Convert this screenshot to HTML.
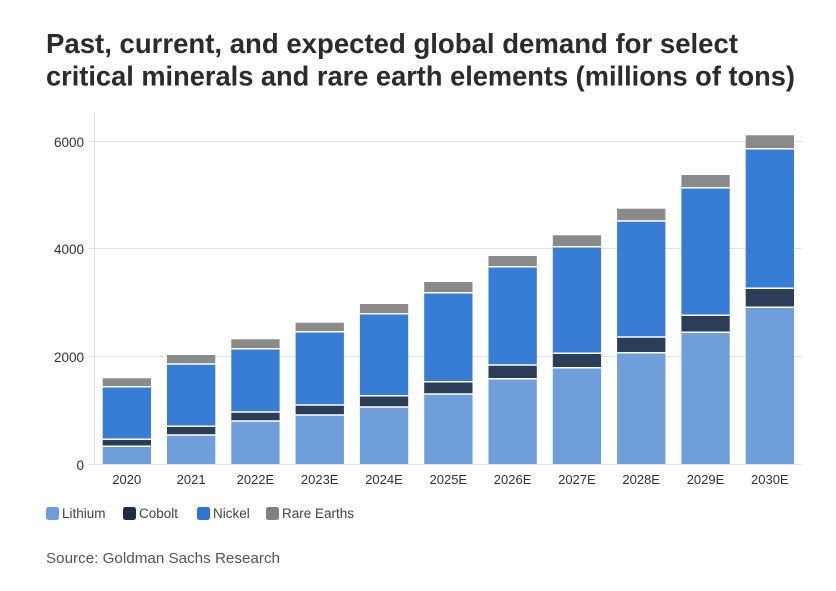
<!DOCTYPE html>
<html><head><meta charset="utf-8"><style>
html,body{margin:0;padding:0;background:#fff;}
svg{display:block;font-family:"Liberation Sans",sans-serif;}
</style></head><body>
<svg width="836" height="591" viewBox="0 0 836 591" xmlns="http://www.w3.org/2000/svg">
<rect width="836" height="591" fill="#fff"/>
<text x="46" y="53" font-size="27.3" font-weight="bold" fill="#2b2b2b" textLength="692" lengthAdjust="spacingAndGlyphs">Past, current, and expected global demand for select</text>
<text x="46" y="85.5" font-size="27.3" font-weight="bold" fill="#2b2b2b" textLength="749" lengthAdjust="spacingAndGlyphs">critical minerals and rare earth elements (millions of tons)</text>
<g stroke="#e2e2e2" stroke-width="1">
<line x1="94" y1="141.5" x2="803" y2="141.5"/>
<line x1="94" y1="248.5" x2="803" y2="248.5"/>
<line x1="94" y1="356.5" x2="803" y2="356.5"/>
<line x1="94" y1="464.5" x2="803" y2="464.5"/>
<line x1="94.5" y1="113" x2="94.5" y2="464"/>
<line x1="88" y1="141.5" x2="94" y2="141.5"/>
<line x1="88" y1="248.5" x2="94" y2="248.5"/>
<line x1="88" y1="356.5" x2="94" y2="356.5"/>
<line x1="88" y1="464.5" x2="94" y2="464.5"/>
</g>
<g font-size="13.5" fill="#333" text-anchor="end">
<text x="84" y="147">6000</text>
<text x="84" y="254">4000</text>
<text x="84" y="362">2000</text>
<text x="84" y="470">0</text>
</g>
<g>
<g><rect x="102.7" y="378.3" width="48.3" height="8.4" fill="#8a8a8a"/><rect x="102.7" y="386.7" width="48.3" height="52.6" fill="#377dd6"/><rect x="102.7" y="439.3" width="48.3" height="7" fill="#2b3d57"/><rect x="102.7" y="446.3" width="48.3" height="17.7" fill="#6f9fdb"/></g>
<g><rect x="167" y="355" width="48.3" height="9" fill="#8a8a8a"/><rect x="167" y="364" width="48.3" height="62.3" fill="#377dd6"/><rect x="167" y="426.3" width="48.3" height="8.7" fill="#2b3d57"/><rect x="167" y="435" width="48.3" height="29" fill="#6f9fdb"/></g>
<g><rect x="231.3" y="339.3" width="48.3" height="9.4" fill="#8a8a8a"/><rect x="231.3" y="348.7" width="48.3" height="63.3" fill="#377dd6"/><rect x="231.3" y="412" width="48.3" height="9" fill="#2b3d57"/><rect x="231.3" y="421" width="48.3" height="43" fill="#6f9fdb"/></g>
<g><rect x="295.6" y="322.7" width="48.3" height="9" fill="#8a8a8a"/><rect x="295.6" y="331.7" width="48.3" height="73.3" fill="#377dd6"/><rect x="295.6" y="405" width="48.3" height="10" fill="#2b3d57"/><rect x="295.6" y="415" width="48.3" height="49" fill="#6f9fdb"/></g>
<g><rect x="359.9" y="304" width="48.3" height="9.7" fill="#8a8a8a"/><rect x="359.9" y="313.7" width="48.3" height="82" fill="#377dd6"/><rect x="359.9" y="395.7" width="48.3" height="11.3" fill="#2b3d57"/><rect x="359.9" y="407" width="48.3" height="57" fill="#6f9fdb"/></g>
<g><rect x="424.2" y="282" width="48.3" height="10.7" fill="#8a8a8a"/><rect x="424.2" y="292.7" width="48.3" height="89" fill="#377dd6"/><rect x="424.2" y="381.7" width="48.3" height="12.3" fill="#2b3d57"/><rect x="424.2" y="394" width="48.3" height="70" fill="#6f9fdb"/></g>
<g><rect x="488.5" y="256" width="48.3" height="10.7" fill="#8a8a8a"/><rect x="488.5" y="266.7" width="48.3" height="98.3" fill="#377dd6"/><rect x="488.5" y="365" width="48.3" height="13.7" fill="#2b3d57"/><rect x="488.5" y="378.7" width="48.3" height="85.3" fill="#6f9fdb"/></g>
<g><rect x="552.8" y="235.3" width="48.3" height="11.4" fill="#8a8a8a"/><rect x="552.8" y="246.7" width="48.3" height="106.6" fill="#377dd6"/><rect x="552.8" y="353.3" width="48.3" height="14.4" fill="#2b3d57"/><rect x="552.8" y="367.7" width="48.3" height="96.3" fill="#6f9fdb"/></g>
<g><rect x="617.1" y="208.7" width="48.3" height="12.3" fill="#8a8a8a"/><rect x="617.1" y="221" width="48.3" height="116" fill="#377dd6"/><rect x="617.1" y="337" width="48.3" height="15.7" fill="#2b3d57"/><rect x="617.1" y="352.7" width="48.3" height="111.3" fill="#6f9fdb"/></g>
<g><rect x="681.4" y="175" width="48.3" height="12.7" fill="#8a8a8a"/><rect x="681.4" y="187.7" width="48.3" height="127.6" fill="#377dd6"/><rect x="681.4" y="315.3" width="48.3" height="17" fill="#2b3d57"/><rect x="681.4" y="332.3" width="48.3" height="131.7" fill="#6f9fdb"/></g>
<g><rect x="745.7" y="135.3" width="48.3" height="13.4" fill="#8a8a8a"/><rect x="745.7" y="148.7" width="48.3" height="139.6" fill="#377dd6"/><rect x="745.7" y="288.3" width="48.3" height="19" fill="#2b3d57"/><rect x="745.7" y="307.3" width="48.3" height="156.7" fill="#6f9fdb"/></g>
</g>
<g stroke="#fff" stroke-width="1.5">
<line x1="102.7" x2="151" y1="386.7" y2="386.7"/><line x1="102.7" x2="151" y1="439.3" y2="439.3"/><line x1="102.7" x2="151" y1="446.3" y2="446.3"/>
<line x1="167" x2="215.3" y1="364" y2="364"/><line x1="167" x2="215.3" y1="426.3" y2="426.3"/><line x1="167" x2="215.3" y1="435" y2="435"/>
<line x1="231.3" x2="279.6" y1="348.7" y2="348.7"/><line x1="231.3" x2="279.6" y1="412" y2="412"/><line x1="231.3" x2="279.6" y1="421" y2="421"/>
<line x1="295.6" x2="343.9" y1="331.7" y2="331.7"/><line x1="295.6" x2="343.9" y1="405" y2="405"/><line x1="295.6" x2="343.9" y1="415" y2="415"/>
<line x1="359.9" x2="408.2" y1="313.7" y2="313.7"/><line x1="359.9" x2="408.2" y1="395.7" y2="395.7"/><line x1="359.9" x2="408.2" y1="407" y2="407"/>
<line x1="424.2" x2="472.5" y1="292.7" y2="292.7"/><line x1="424.2" x2="472.5" y1="381.7" y2="381.7"/><line x1="424.2" x2="472.5" y1="394" y2="394"/>
<line x1="488.5" x2="536.8" y1="266.7" y2="266.7"/><line x1="488.5" x2="536.8" y1="365" y2="365"/><line x1="488.5" x2="536.8" y1="378.7" y2="378.7"/>
<line x1="552.8" x2="601.1" y1="246.7" y2="246.7"/><line x1="552.8" x2="601.1" y1="353.3" y2="353.3"/><line x1="552.8" x2="601.1" y1="367.7" y2="367.7"/>
<line x1="617.1" x2="665.4" y1="221" y2="221"/><line x1="617.1" x2="665.4" y1="337" y2="337"/><line x1="617.1" x2="665.4" y1="352.7" y2="352.7"/>
<line x1="681.4" x2="729.7" y1="187.7" y2="187.7"/><line x1="681.4" x2="729.7" y1="315.3" y2="315.3"/><line x1="681.4" x2="729.7" y1="332.3" y2="332.3"/>
<line x1="745.7" x2="794" y1="148.7" y2="148.7"/><line x1="745.7" x2="794" y1="288.3" y2="288.3"/><line x1="745.7" x2="794" y1="307.3" y2="307.3"/>
</g>
<g font-size="13" fill="#333" text-anchor="middle">
<text x="126.8" y="484">2020</text>
<text x="191.1" y="484">2021</text>
<text x="255.4" y="484">2022E</text>
<text x="319.7" y="484">2023E</text>
<text x="384" y="484">2024E</text>
<text x="448.3" y="484">2025E</text>
<text x="512.6" y="484">2026E</text>
<text x="576.9" y="484">2027E</text>
<text x="641.2" y="484">2028E</text>
<text x="705.5" y="484">2029E</text>
<text x="769.8" y="484">2030E</text>
</g>
<g font-size="13.5" fill="#444">
<rect x="46" y="507" width="13" height="13" rx="2.5" fill="#6f9fdb"/><text x="62" y="518">Lithium</text>
<rect x="123" y="507" width="13" height="13" rx="2.5" fill="#1e2d45"/><text x="139" y="518">Cobolt</text>
<rect x="197" y="507" width="13" height="13" rx="2.5" fill="#2f74d4"/><text x="213" y="518">Nickel</text>
<rect x="266" y="507" width="13" height="13" rx="2.5" fill="#808080"/><text x="282" y="518">Rare Earths</text>
</g>
<text x="46" y="563" font-size="14.5" fill="#555" textLength="234" lengthAdjust="spacingAndGlyphs">Source: Goldman Sachs Research</text>
</svg>
</body></html>
